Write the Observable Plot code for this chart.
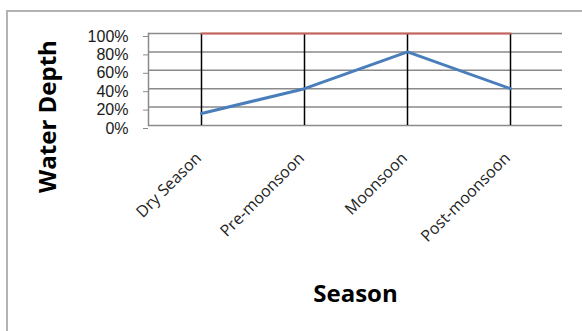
<!DOCTYPE html>
<html>
<head>
<meta charset="utf-8">
<script src="https://cdn.jsdelivr.net/npm/d3@7"></script>
<script src="https://cdn.jsdelivr.net/npm/@observablehq/plot@0.6"></script>
<style>
  body { margin: 0; background: #fff; }
  #wrap { position: relative; width: 582px; height: 331px; overflow: hidden; font-family: "Open Sans", sans-serif; }
  #frame { position: absolute; left: 6px; top: 10px; width: 620px; height: 400px; border: 2px solid #b3b3b3; }
  #chart { position: absolute; left: 0; top: 0; }
</style>
</head>
<body>
<div id="wrap"><div id="frame"></div><div id="chart"></div></div>
<script>
// Seasons along the x axis
const seasons = ["Dry Season", "Pre-moonsoon", "Moonsoon", "Post-moonsoon"];
// Water depth in each season (share of full depth)
const waterDepth = [0.13, 0.40, 0.80, 0.40];
// Full depth reference series
const fullDepth = [1, 1, 1, 1];
// Y axis ticks
const yTicks = [0, 0.2, 0.4, 0.6, 0.8, 1];

const rows = seasons.map((s, i) => ({ season: s, depth: waterDepth[i], full: fullDepth[i] }));

const chart = Plot.plot({
  width: 582,
  height: 331,
  marginLeft: 148,
  marginRight: 20,
  marginTop: 33,
  marginBottom: 206,
  style: { fontFamily: "Open Sans", background: "transparent", color: "#1a1a1a" },
  x: { type: "point", domain: seasons, padding: 0, insetLeft: 53, insetRight: 52 },
  y: { domain: [0, 1] },
  marks: [
    Plot.ruleY(yTicks, { stroke: "#8a8a8a", strokeWidth: 1.5 }),
    Plot.frame({ anchor: "left", stroke: "#8a8a8a", strokeWidth: 1.5 }),
    Plot.axisY(yTicks, {
      tickFormat: d3.format(".0%"), tickSize: 5, tickPadding: 15, stroke: "#8a8a8a",
      fontSize: 16, fontFamily: "Liberation Sans", dy: 3, label: null, fill: "#1a1a1a"
    }),
    Plot.axisX({ tickRotate: -45, tickSize: 0, tickPadding: 30, fontSize: 16, dx: -3, label: null, fill: "#222" }),
    Plot.ruleX(seasons, { y1: 0, y2: 1, stroke: "#000", strokeWidth: 1.5 }),
    Plot.line(rows, { x: "season", y: "full", stroke: "#c9605d", strokeWidth: 2 }),
    Plot.line(rows, { x: "season", y: "depth", stroke: "#4a7ebb", strokeWidth: 3 }),
    Plot.text(["Water Depth"], {
      text: d => d, frameAnchor: "left", textAnchor: "middle", rotate: -90, dx: -100, dy: 37,
      fontSize: 24, fontWeight: "bold", fill: "#000"
    }),
    Plot.text(["Season"], {
      text: d => d, frameAnchor: "bottom", dy: 176,
      fontSize: 24, fontWeight: "bold", fill: "#000"
    })
  ]
});

document.getElementById("chart").appendChild(chart);
</script>
</body>
</html>
